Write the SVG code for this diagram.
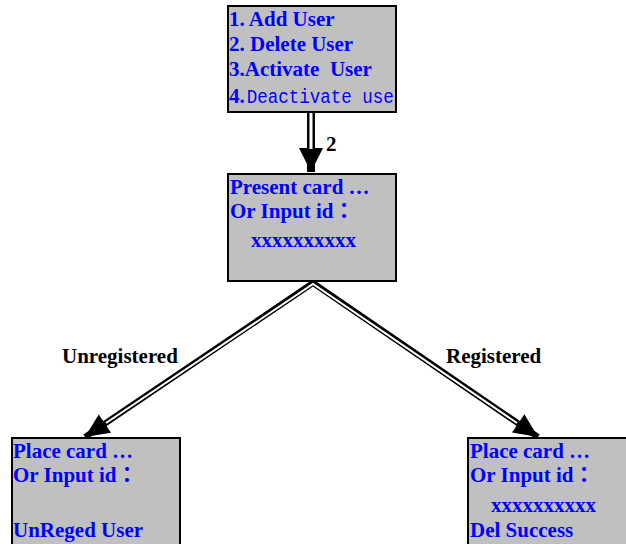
<svg xmlns="http://www.w3.org/2000/svg" width="626" height="544" viewBox="0 0 626 544">
<style>
.box{fill:#c0c0c0;stroke:#000;stroke-width:2}
.t{font-family:"Liberation Serif","Noto Sans CJK TC",serif;font-weight:bold;font-size:21px;fill:#0000ff}
.m{font-family:"Liberation Mono",monospace;font-weight:normal;font-size:20px}
.lbl{font-family:"Liberation Serif",serif;font-weight:bold;font-size:21px;fill:#000}
.outer{fill:none;stroke:#000;stroke-linejoin:miter}
.inner{fill:none;stroke:#fff;stroke-linejoin:miter}
</style>
<defs>
<marker id="ah" markerUnits="userSpaceOnUse" markerWidth="26" markerHeight="26" refX="25" refY="13" orient="auto-start-reverse">
<path d="M1,1 L25,13 L1,25 Z" fill="#000"/>
</marker>
<marker id="ah2" markerUnits="userSpaceOnUse" markerWidth="26" markerHeight="24" refX="25" refY="12" orient="auto-start-reverse">
<path d="M1,1 L25,12 L1,23 Z" fill="#000"/>
</marker>
</defs>
<g id="connectors">
<line class="outer" x1="311" y1="112" x2="311" y2="172" stroke-width="8" marker-end="url(#ah)"/>
<line class="inner" x1="311" y1="110" x2="311" y2="149" stroke-width="3"/>
<polyline class="outer" points="85,437 313,283 538,437" stroke-width="6" marker-start="url(#ah2)" marker-end="url(#ah2)"/>
<polyline class="inner" points="106,423 313,284 517,423" stroke-width="2"/>
<text class="lbl" x="326" y="151">2</text>
<text class="lbl" x="62" y="363">Unregistered</text>
<text class="lbl" x="446" y="363">Registered</text>
</g>
<g id="menu">
<rect class="box" x="228" y="6" width="168" height="106"/>
<text class="t" x="229" y="26">1. Add User</text>
<text class="t" x="229" y="51">2. Delete User</text>
<text class="t" x="229" y="76">3.Activate&#160; User</text>
<text class="t" x="229" y="103">4.<tspan class="m" dx="2" textLength="147" lengthAdjust="spacingAndGlyphs">Deactivate use</tspan></text>
</g>
<g id="present">
<rect class="box" x="228" y="174" width="168" height="107"/>
<text class="t" x="230" y="194">Present card …</text>
<text class="t" x="230" y="218">Or Input id：</text>
<text class="t" x="251" y="247">xxxxxxxxxx</text>
</g>
<g id="unregistered">
<rect class="box" x="12" y="438" width="168" height="112"/>
<text class="t" x="13" y="458">Place card …</text>
<text class="t" x="13" y="482">Or Input id：</text>
<text class="t" x="13" y="537">UnReged User</text>
</g>
<g id="registered">
<rect class="box" x="468" y="438" width="162" height="112"/>
<text class="t" x="470" y="458">Place card …</text>
<text class="t" x="470" y="482">Or Input id：</text>
<text class="t" x="491" y="512">xxxxxxxxxx</text>
<text class="t" x="470" y="537">Del Success</text>
</g>
</svg>
